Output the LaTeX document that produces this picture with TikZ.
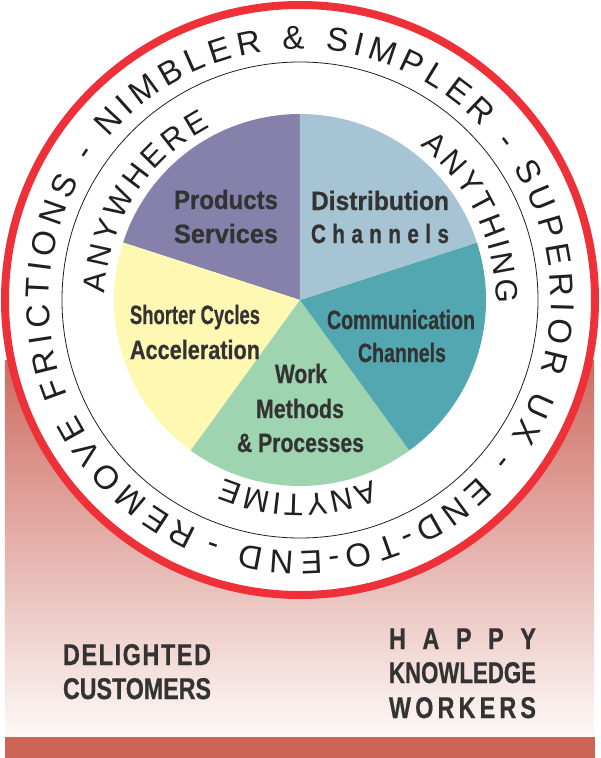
\documentclass[tikz,border=0pt]{standalone}
\usepackage{fontspec}
\usepackage{graphicx}
\usetikzlibrary{decorations.text}
\setmainfont{Liberation Sans}
\newfontfamily\ringf{Liberation Sans}
\newfontfamily\condf[FakeStretch=0.78,FakeBold=0.6]{Liberation Sans Bold}
\definecolor{ringred}{RGB}{238,49,56}
\definecolor{ringgray}{RGB}{35,31,32}
\definecolor{labelgray}{RGB}{51,51,51}
\definecolor{wpurple}{RGB}{134,129,171}
\definecolor{wblue}{RGB}{166,196,211}
\definecolor{wteal}{RGB}{82,167,177}
\definecolor{wgreen}{RGB}{159,212,176}
\definecolor{wyellow}{RGB}{255,248,178}
\definecolor{paneltop}{RGB}{205,108,98}
\definecolor{panelbot}{RGB}{253,249,247}
\definecolor{barred}{RGB}{205,101,86}
\newcommand\fw[2]{\resizebox{#1pt}{\height}{#2}}
\newcommand\spread[2]{\makebox[#1pt][s]{#2}}
\tikzset{
  lbl/.style={inner sep=0pt, outer sep=0pt, text=labelgray, anchor=base west,
    font=\condf\fontsize{26.5}{30}\selectfont},
  bot/.style={lbl, font=\condf\fontsize{30}{32}\selectfont},
  ringtext/.style={decorate, decoration={text along path, text color=ringgray,
    text align=fit to path, text={#1}}},
}
\begin{document}
\begin{tikzpicture}[x=1pt,y=1pt]
\useasboundingbox (-300,-458) rectangle (300,300);
% background panel
\shade[top color=paneltop, bottom color=panelbot] (-295,-60) rectangle (294,-437);
\fill[barred] (-295,-437) rectangle (295,-458);
% ring
\fill[white] (0,0) circle[radius=295pt];
\draw[ringred, line width=8pt] (0,0) circle[radius=295pt];
\draw[ringgray, line width=0.8pt] (0,0) circle[radius=238pt];
% pie
\fill[wpurple] (0,0) -- (90:186pt) arc[start angle=90, end angle=162, radius=186pt] -- cycle;
\fill[wyellow] (0,0) -- (162:186pt) arc[start angle=162, end angle=234, radius=186pt] -- cycle;
\fill[wgreen] (0,0) -- (234:186pt) arc[start angle=234, end angle=306, radius=186pt] -- cycle;
\fill[wteal] (0,0) -- (306:186pt) arc[start angle=306, end angle=378, radius=186pt] -- cycle;
\fill[wblue] (0,0) -- (18:186pt) arc[start angle=18, end angle=90, radius=186pt] -- cycle;
% outer ring text
\path[ringtext={|\ringf\fontsize{33}{33}\selectfont|REMOVE FRICTIONS - NIMBLER {\&} SIMPLER - SUPERIOR UX - END-TO-END -}]
  (246:251pt) arc[start angle=246, end angle=-110.6, radius=251pt];
% inner ring texts
\path[ringtext={|\ringf\fontsize{31}{31}\selectfont|ANYWHERE}]
  (178:195pt) arc[start angle=178, end angle=117.5, radius=195pt];
\path[ringtext={|\ringf\fontsize{31}{31}\selectfont|ANYTHING}]
  (52:196pt) arc[start angle=52, end angle=-1, radius=196pt];
\path[ringtext={|\ringf\fontsize{31}{31}\selectfont|ANYTIME}]
  (292:194pt) arc[start angle=292, end angle=247, radius=194pt];
% pie labels
\node[lbl] (prod) at (-126,91) {\fw{104}{Products}};
\node[lbl] (serv) at (-126,57) {\fw{104}{Services}};
\node[lbl] (dist) at (11,90) {\fw{138}{Distribution}};
\node[lbl] (dchan) at (11,57) {\spread{138}{C\hfill h\hfill a\hfill n\hfill n\hfill e\hfill l\hfill s}};
\node[lbl] (short) at (-170,-24) {\fw{130}{Shorter Cycles}};
\node[lbl] (accel) at (-170,-59) {\fw{130}{Acceleration}};
\node[lbl] (comm) at (27,-29) {\fw{148}{Communication}};
\node[lbl] (cchan) at (58,-62) {\fw{88}{Channels}};
\node[lbl] (work) at (-25,-83) {\fw{52}{Work}};
\node[lbl] (meth) at (-44,-118) {\fw{88}{Methods}};
\node[lbl] (proc) at (-63,-152) {\fw{127}{\& Processes}};
% bottom texts
\node[bot] (deli) at (-237,-365) {\spread{148}{D\hfill E\hfill L\hfill I\hfill G\hfill H\hfill T\hfill E\hfill D}};
\node[bot] (cust) at (-237,-399) {\fw{148}{CUSTOMERS}};
\node[bot] (happy) at (89,-349) {\spread{147}{H\hfill A\hfill P\hfill P\hfill Y}};
\node[bot] (know) at (89,-383) {\fw{147}{KNOWLEDGE}};
\node[bot] (work2) at (89,-418) {\spread{147}{W\hfill O\hfill R\hfill K\hfill E\hfill R\hfill S}};
\end{tikzpicture}
\end{document}
